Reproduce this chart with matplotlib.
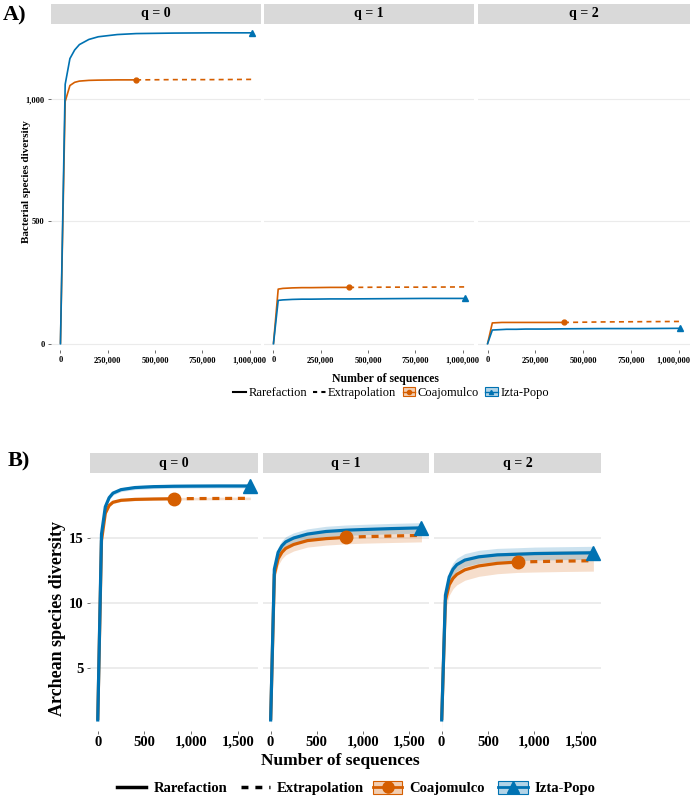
import numpy as np
import matplotlib
matplotlib.use("Agg")
import matplotlib.pyplot as plt
from matplotlib.lines import Line2D
from matplotlib.patches import Patch
from matplotlib.colors import to_rgba
from matplotlib.ticker import FuncFormatter
from matplotlib.transforms import ScaledTranslation

plt.rcParams['font.family'] = ['Liberation Serif', 'DejaVu Serif']

# ---------------- data ----------------
SITES = ['Coajomulco', 'Izta-Popo']
ORDERS = ['q = 0', 'q = 1', 'q = 2']
COLORS = ['#D55E00', '#0072B2']

# A) bacteria, sample size knots (Coajomulco observed at index 8, Izta-Popo at the end)
A_N = [1, 25000, 50000, 75000, 100000, 150000, 200000, 300000, 400000, 600000, 800000, 1010000]
A_COAJ_OBS = 8
A_COAJ_Q0 = [1, 990, 1055, 1068, 1073, 1076, 1077, 1078, 1078, 1079, 1079, 1080]
A_COAJ_Q1 = [1, 224, 227, 228, 229, 230, 230, 231, 231, 232, 232, 233]
A_COAJ_Q2 = [1, 86, 87, 88, 88, 88, 88, 88, 88, 90, 91, 92]
A_IZTA_Q0 = [1, 1060, 1165, 1200, 1222, 1243, 1254, 1263, 1267, 1269, 1270, 1270]
A_IZTA_Q1 = [1, 178, 180, 181, 182, 183, 183, 184, 184, 185, 186, 186]
A_IZTA_Q2 = [1, 57, 58, 59, 60, 60, 61, 61, 62, 63, 63, 64]

# B) archaea
B_N = [1, 41, 82, 123, 164, 250, 400, 600, 817, 1000, 1300, 1634]
B_COAJ_OBS = 8
B_COAJ_Q0 = [1, 14.8, 16.9, 17.5, 17.75, 17.9, 17.97, 18.0, 18.02, 18.03, 18.04, 18.05]
B_COAJ_Q1 = [1, 12.2, 13.4, 13.9, 14.2, 14.5, 14.8, 14.95, 15.05, 15.1, 15.15, 15.2]
B_COAJ_Q2 = [1, 10.2, 11.4, 11.9, 12.2, 12.55, 12.85, 13.05, 13.15, 13.18, 13.22, 13.25]
B_IZTA_Q0 = [1, 15.3, 17.4, 18.1, 18.45, 18.72, 18.88, 18.95, 18.98, 18.99, 19.0, 19.0]
B_IZTA_Q1 = [1, 12.6, 13.9, 14.4, 14.7, 15.0, 15.3, 15.5, 15.6, 15.65, 15.72, 15.78]
B_IZTA_Q2 = [1, 10.6, 12.0, 12.6, 12.95, 13.3, 13.55, 13.7, 13.75, 13.8, 13.83, 13.86]
# half widths of the confidence bands
B_COAJ_HW = [0.1, 0.5, 0.8]
B_IZTA_HW = [0.15, 0.4, 0.5]

# ---------------- figure ----------------
W, H = 691, 796
fig = plt.figure(figsize=(W / 100, H / 100), dpi=100)


def box(x0, y0, x1, y1):
    return [x0 / W, 1 - y1 / H, (x1 - x0) / W, (y1 - y0) / H]


def strip(x0, y0, x1, y1, label, size):
    s = fig.add_axes(box(x0, y0, x1, y1))
    s.set_facecolor('#D9D9D9')
    s.set_xticks([])
    s.set_yticks([])
    for sp in s.spines.values():
        sp.set_visible(False)
    s.text(0.5, 0.5, label, ha='center', va='center', fontsize=size, fontweight='bold',
           transform=s.transAxes)


def curves(ax, n, coaj, izta, obs, lw, ms_c, ms_t, dash, hw_c=0, hw_i=0):
    n = np.asarray(n, float)
    coaj = np.asarray(coaj, float)
    izta = np.asarray(izta, float)
    if hw_c:
        ax.fill_between(n, coaj - hw_c, coaj + hw_c, color=COLORS[0], alpha=0.2, lw=0)
        ax.fill_between(n, izta - hw_i, izta + hw_i, color=COLORS[1], alpha=0.2, lw=0)
    ax.plot(n[:obs + 1], coaj[:obs + 1], color=COLORS[0], lw=lw, solid_capstyle='butt')
    ax.plot(n[obs:], coaj[obs:], color=COLORS[0], lw=lw, ls=(0, dash))
    ax.plot(n, izta, color=COLORS[1], lw=lw)
    ax.plot(n[obs], coaj[obs], 'o', color=COLORS[0], ms=ms_c)
    ax.plot(n[-1], izta[-1], '^', color=COLORS[1], ms=ms_t)


def style(ax, yt, xt, fs, grid_lw):
    for sp in ax.spines.values():
        sp.set_visible(False)
    ax.set_yticks(yt)
    ax.set_xticks(xt)
    ax.grid(axis='y', color='#EBEBEB', lw=grid_lw)
    ax.set_axisbelow(True)
    ax.tick_params(length=2.5, width=0.6, color='#555555', pad=2, labelsize=fs)
    ax.xaxis.set_major_formatter(FuncFormatter(lambda v, p: f'{v:,.0f}'))
    ax.yaxis.set_major_formatter(FuncFormatter(lambda v, p: f'{v:,.0f}'))
    for lab in ax.get_xticklabels() + ax.get_yticklabels():
        lab.set_fontweight('bold')


# ----- panel A -----
a_cols = [(51, 261), (264, 474), (478, 690)]
a_coaj = [A_COAJ_Q0, A_COAJ_Q1, A_COAJ_Q2]
a_izta = [A_IZTA_Q0, A_IZTA_Q1, A_IZTA_Q2]
for i, (x0, x1) in enumerate(a_cols):
    ax = fig.add_axes(box(x0, 25, x1, 350))
    curves(ax, A_N, a_coaj[i], a_izta[i], A_COAJ_OBS, 1.2, 3.5, 4.5, (3, 2.5))
    ax.set_xlim(-50000, 1060000)
    ax.set_ylim(-24.5, 1302)
    style(ax, [0, 500, 1000], [0, 250000, 500000, 750000, 1000000], 6, 0.8)
    if i > 0:
        ax.tick_params(axis='y', left=False, labelleft=False)
    if i == 2:
        last = ax.xaxis.get_major_ticks()[-1].label1
        last.set_transform(last.get_transform() + ScaledTranslation(-0.05, 0, fig.dpi_scale_trans))
    strip(x0, 4, x1, 24, ORDERS[i], 10)

fig.text(3 / W, 1 - 15 / H, 'A)', fontsize=16, fontweight='bold', va='center', ha='left')
fig.text(27 / W, 1 - 182 / H, 'Bacterial species diversity', rotation=90, fontsize=8,
         fontweight='bold', ha='center', va='center')
fig.text(385 / W, 1 - 379 / H, 'Number of sequences', fontsize=8.5, fontweight='bold',
         ha='center', va='center')


def site_handle(color, marker, ms, lw):
    return (Patch(facecolor=to_rgba(color, 0.3), edgecolor=color, lw=0.8),
            Line2D([], [], color=color, marker=marker, ms=ms, lw=lw))


hA = [Line2D([], [], color='black', lw=1.5),
      Line2D([], [], color='black', lw=1.5, ls=(0, (2, 2))),
      site_handle(COLORS[0], 'o', 3, 1), site_handle(COLORS[1], '^', 3, 1)]
fig.legend(hA, ['Rarefaction', 'Extrapolation'] + SITES, loc='center',
           bbox_to_anchor=(391 / W, 1 - 393 / H), ncol=4, frameon=False, fontsize=9,
           handlelength=1.0, handletextpad=0.2, columnspacing=0.5, borderpad=0)

# ----- panel B -----
b_cols = [(90, 258), (263, 429), (434, 601)]
b_coaj = [B_COAJ_Q0, B_COAJ_Q1, B_COAJ_Q2]
b_izta = [B_IZTA_Q0, B_IZTA_Q1, B_IZTA_Q2]
for i, (x0, x1) in enumerate(b_cols):
    ax = fig.add_axes(box(x0, 473, x1, 731))
    curves(ax, B_N, b_coaj[i], b_izta[i], B_COAJ_OBS, 2.3, 9, 10, (2.2, 1.8),
           B_COAJ_HW[i], B_IZTA_HW[i])
    ax.set_xlim(-82, 1716)
    ax.set_ylim(0.15, 20.0)
    style(ax, [5, 10, 15], [0, 500, 1000, 1500], 10.5, 1.3)
    ax.tick_params(axis='x', pad=1)
    if i > 0:
        ax.tick_params(axis='y', left=False, labelleft=False)
    strip(x0, 453, x1, 473, ORDERS[i], 10)

fig.text(8 / W, 1 - 461 / H, 'B)', fontsize=16, fontweight='bold', va='center', ha='left')
fig.text(58 / W, 1 - 618 / H, 'Archean species diversity', rotation=90, fontsize=13,
         fontweight='bold', ha='center', va='center')
fig.text(340 / W, 1 - 761 / H, 'Number of sequences', fontsize=12.5, fontweight='bold',
         ha='center', va='center')

hB1 = [Line2D([], [], color='black', lw=2.5),
       Line2D([], [], color='black', lw=2.5, ls=(0, (2, 2)))]
fig.legend(hB1, ['Rarefaction', 'Extrapolation'], loc='center left',
           bbox_to_anchor=(110 / W, 1 - 788 / H), ncol=2, frameon=False,
           prop={'size': 10.5, 'weight': 'bold'}, handlelength=2.0, handletextpad=0.5,
           columnspacing=0.9, borderpad=0)
hB2 = [site_handle(COLORS[0], 'o', 8, 2), site_handle(COLORS[1], '^', 8, 2)]
fig.legend(hB2, SITES, loc='center left', bbox_to_anchor=(366 / W, 1 - 788 / H), ncol=2,
           frameon=False, prop={'size': 10.5, 'weight': 'bold'}, handlelength=2.0,
           handleheight=1.0, handletextpad=0.5, columnspacing=0.9, borderpad=0)

fig.savefig('out.png', dpi=100)
